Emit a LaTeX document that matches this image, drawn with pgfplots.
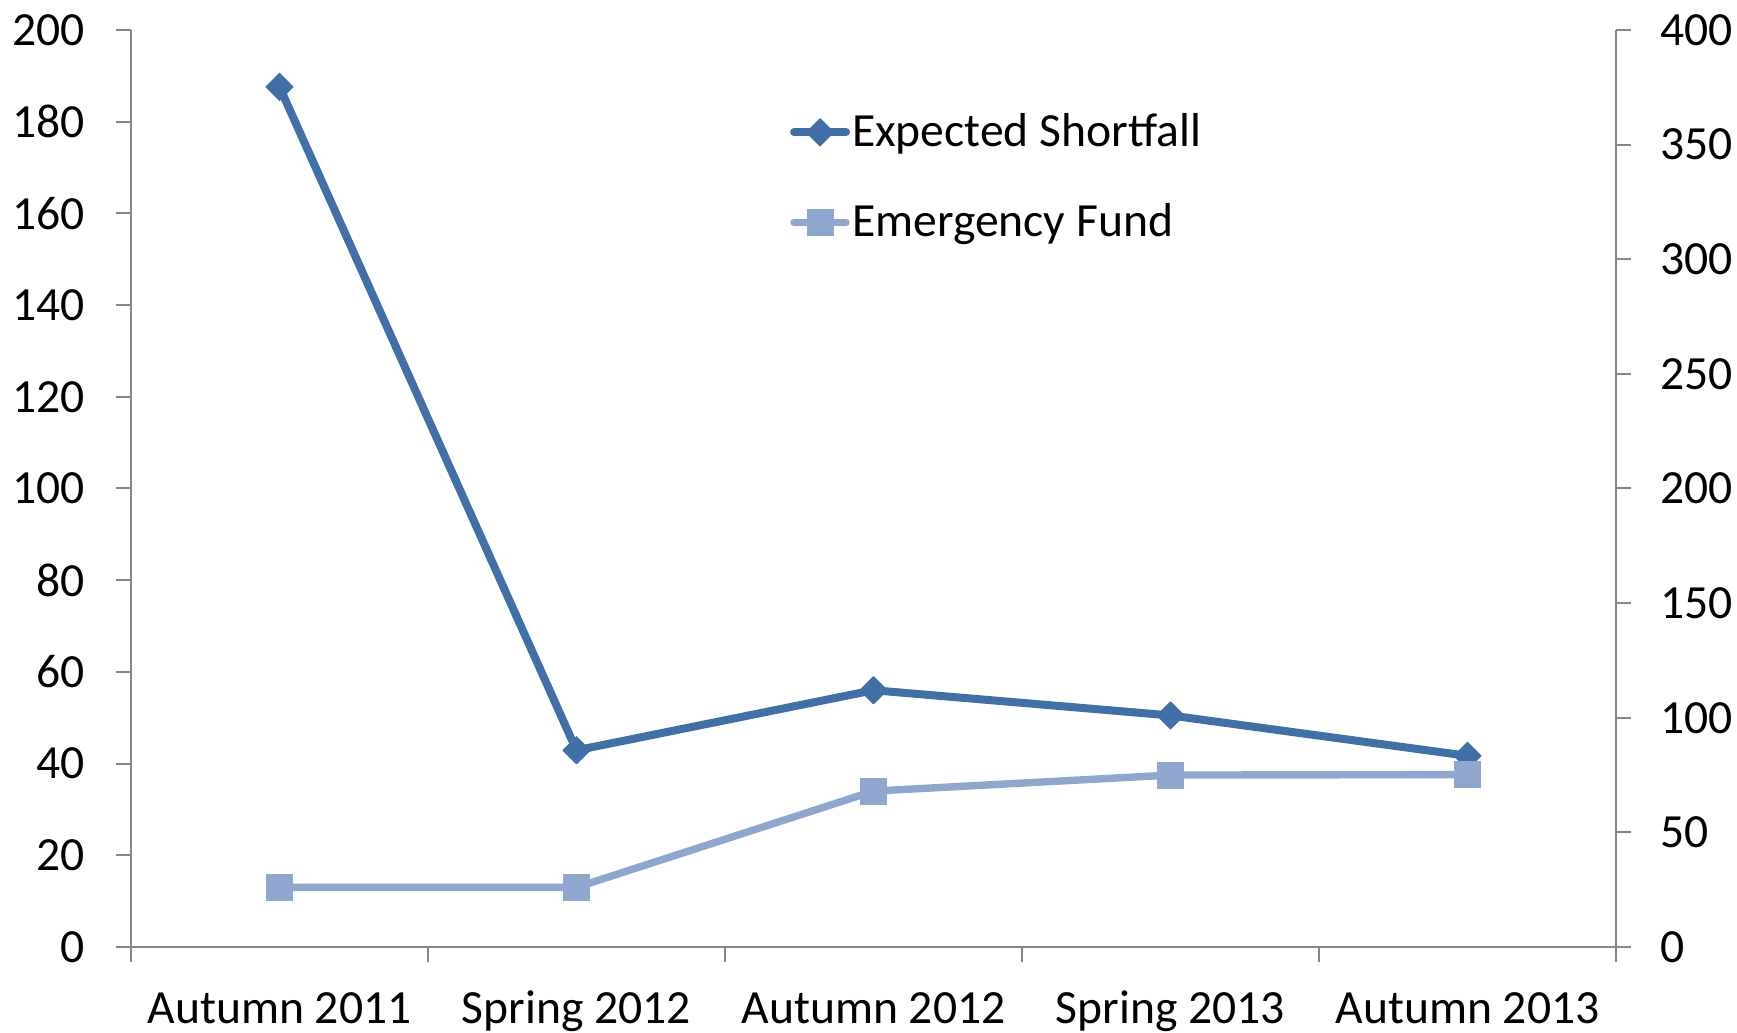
\documentclass[border=0pt]{standalone}
\usepackage{pgfplots}
\usepackage{pgfplotstable}
\pgfplotsset{compat=1.18}
\usepackage{fontspec}
\setmainfont{Carlito}
\definecolor{es}{HTML}{4170A8}
\definecolor{ef}{HTML}{8FA7CE}
\definecolor{axgray}{HTML}{868686}

\pgfplotstableread{
x es ef
0 187.6 26.0
1 42.9 26.0
2 56.0 68.0
3 50.5 75.0
4 41.7 75.2
}\datatable

\begin{document}
\begin{tikzpicture}[font=\fontsize{23.9}{28}\selectfont]
\pgfplotsset{
  base/.style={
    scale only axis, width=742.5bp, height=458.5bp,
    xmin=-0.5, xmax=4.5, clip=false,
    tick align=outside, major tick length=7.5bp, minor tick length=7.5bp,
    axis line style={axgray, line width=1bp},
    every tick/.style={axgray, line width=1bp},
    /pgf/number format/assume math mode=true,
  },
  esstyle/.style={es, line width=4bp, line join=round, mark=square*, mark size=4.8bp, mark options={rotate=45, solid, line width=0.5bp}},
  efstyle/.style={ef, line width=3.7bp, line join=round, mark=square*, mark size=6.5bp, mark options={solid, line width=0.5bp}},
}
\begin{axis}[base, name=ax,
  axis x line*=bottom, axis y line*=left,
  ymin=0, ymax=200, ytick={0,20,...,200},
  xtick={-0.5,0.5,1.5,2.5,3.5,4.5}, xticklabels={},
  extra x ticks={0,1,2,3,4},
  extra x tick labels={Autumn 2011, Spring 2012, Autumn 2012, Spring 2013, Autumn 2013},
  extra x tick style={major tick length=0pt},
  x tick label style={inner sep=0pt, anchor=north, text height=15.3bp, text depth=0pt, yshift=-22.5bp},
  y tick label style={inner sep=0pt, anchor=east, xshift=-15.5bp},
]
\addplot[esstyle] table[x=x,y=es]{\datatable};
\end{axis}
\begin{axis}[base,
  hide x axis, axis y line*=right,
  ymin=0, ymax=400, ytick={0,50,...,400},
  y tick label style={inner sep=0pt, anchor=west, xshift=14.5bp},
  legend cell align=left,
  legend image code/.code={\draw[#1, mark repeat=2, mark phase=2, line cap=round] plot coordinates {(2bp,0bp)(15bp,0bp)(28bp,0bp)};},
  legend style={draw=none, fill=none, inner sep=0pt, outer sep=0pt, anchor=north west,
    at={(axis description cs:0.4438,0.904)}, row sep=30.7bp, column sep=1bp,
    nodes={inner sep=0pt, text height=14.3bp, text depth=0pt, font=\fontsize{23.9}{28}\selectfont}},
]
\addlegendimage{esstyle}
\addlegendentry{Expected Shortfall}
\addplot[efstyle] table[x=x,y=ef]{\datatable};
\addlegendentry{Emergency Fund}
\end{axis}
\pgfresetboundingbox
\path (ax.south west) ++(-65.5bp,-43bp) rectangle ++(868.5bp,516.5bp);
\end{tikzpicture}
\end{document}
